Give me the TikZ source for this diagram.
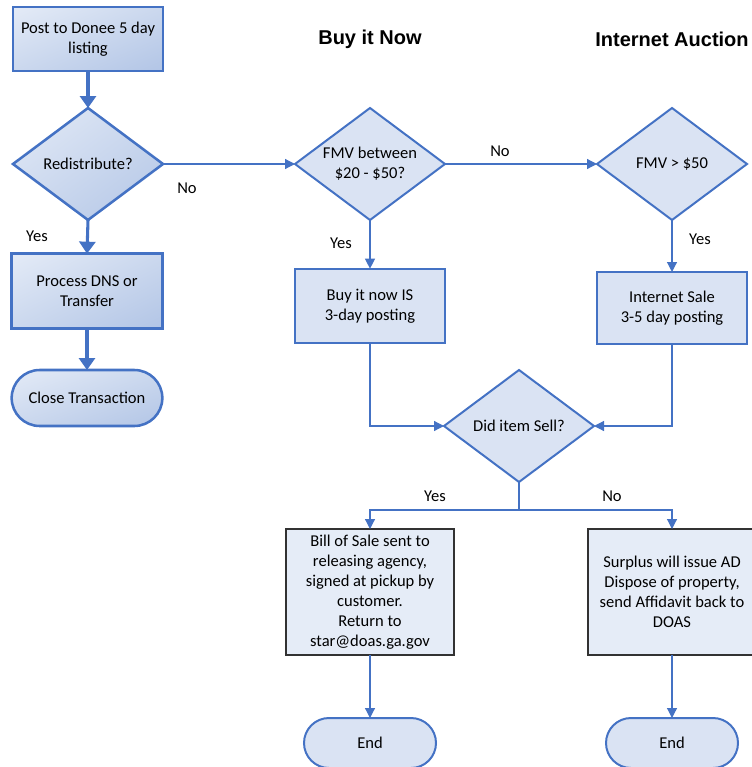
\documentclass[tikz,border=0pt]{standalone}
\usepackage{fontspec}
\setmainfont{Carlito}
\newfontfamily\headfont{Liberation Sans}
\usetikzlibrary{shapes.geometric,shapes.misc,arrows.meta,shadings}
\definecolor{flowblue}{RGB}{68,114,196}
\definecolor{lightfill}{RGB}{218,227,243}
\definecolor{palefill}{RGB}{229,236,247}
\definecolor{shadelight}{RGB}{228,235,247}
\definecolor{shademid}{RGB}{203,216,238}
\definecolor{shadedark}{RGB}{178,197,230}
\definecolor{boxline}{RGB}{50,50,50}

\tikzset{
  every node/.style={font=\fontsize{12.4}{15}\selectfont, align=center, inner sep=0pt, outer sep=0pt},
  shaded/.style={draw=flowblue, line width=1.9pt, upper left=shadelight, lower right=shadedark, upper right=shademid, lower left=shademid},
  plain/.style={draw=flowblue, line width=1.5pt, fill=lightfill},
  notebox/.style={draw=boxline, line width=1pt, fill=palefill, rectangle, minimum width=126pt, minimum height=94.5pt},
  decision/.style={diamond, minimum width=112.5pt, minimum height=84pt},
  terminal/.style={rounded rectangle},
  heavy/.style={flowblue, line width=2.3pt, -{Triangle[length=9pt,width=12pt]}},
  thin/.style={flowblue, line width=0.9pt, -{Triangle[length=7.5pt,width=7.5pt]}},
  thinline/.style={flowblue, line width=0.9pt},
  heading/.style={font=\headfont\bfseries\fontsize{15}{18}\selectfont},
}

\begin{document}
\begin{tikzpicture}[x=0.75pt,y=-0.75pt]
  %%%%% START %%%%%
  \useasboundingbox (0,0) rectangle (752,767);

  % headings
  \node[heading] (hbuy) at (370,39) {Buy it Now};
  \node[heading] (hauc) at (672,39) {Internet Auction};

  % left column
  \node[shaded, rectangle, minimum width=112.5pt, minimum height=48pt] (post) at (88,39) {Post to Donee 5 day\\listing};
  \node[shaded, decision, label={center:Redistribute?}] (redis) at (88,164) {};
  \node[shaded, rectangle, minimum width=113pt, minimum height=56pt] (proc) at (87,291) {Process DNS or\\Transfer};
  \node[shaded, terminal, minimum width=113pt, minimum height=42pt] (close) at (87,398) {Close Transaction};

  % middle and right columns
  \node[plain, decision, label={[align=center]center:FMV between\\\$20 - \$50?}] (fmv) at (370,164) {};
  \node[plain, decision, label={center:FMV > \$50}] (over) at (672,164) {};
  \node[plain, rectangle, minimum width=113pt, minimum height=56pt] (buy) at (370,306) {Buy it now IS\\3-day posting};
  \node[plain, rectangle, minimum width=112.5pt, minimum height=54pt] (isale) at (672,308) {Internet Sale\\3-5 day posting};
  \node[plain, decision, label={center:Did item Sell?}] (sold) at (519,426) {};

  \node[notebox] (bill) at (370,592) {Bill of Sale sent to\\releasing agency,\\signed at pickup by\\customer.\\Return to\\star@doas.ga.gov};
  \node[notebox] (surplus) at (672,592) {Surplus will issue AD\\Dispose of property,\\send Affidavit back to\\DOAS};

  \node[plain, terminal, minimum width=99pt, minimum height=37.5pt] (endl) at (370,743) {End};
  \node[plain, terminal, minimum width=99pt, minimum height=37.5pt] (endr) at (672,743) {End};

  % connectors
  \draw[heavy] (post.south) -- (redis.north);
  \draw[heavy] (redis.south) -- (proc.north);
  \draw[heavy] (proc.south) -- (close.north);
  \draw[thin] (redis.east) -- (fmv.west);
  \draw[thin] (fmv.east) -- (over.west);
  \draw[thin] (fmv.south) -- (buy.north);
  \draw[thin] (over.south) -- (isale.north);
  \draw[thin] (buy.south) |- (sold.west);
  \draw[thin] (isale.south) |- (sold.east);
  \draw[thinline] (sold.south) -- ++(0,28) coordinate (split);
  \draw[thin] (split) -| (bill.north);
  \draw[thin] (split) -| (surplus.north);
  \draw[thin] (bill.south) -- (endl.north);
  \draw[thin] (surplus.south) -- (endr.north);

  % branch labels
  \node (nored) at (187,188) {No};
  \node (yesred) at (37,236) {Yes};
  \node (nofmv) at (500,151) {No};
  \node (yesfmv) at (341,243) {Yes};
  \node (yesover) at (700,239) {Yes};
  \node (yessold) at (435,496) {Yes};
  \node (nosold) at (612,496) {No};
  %%%%% END %%%%%
\end{tikzpicture}
\end{document}
